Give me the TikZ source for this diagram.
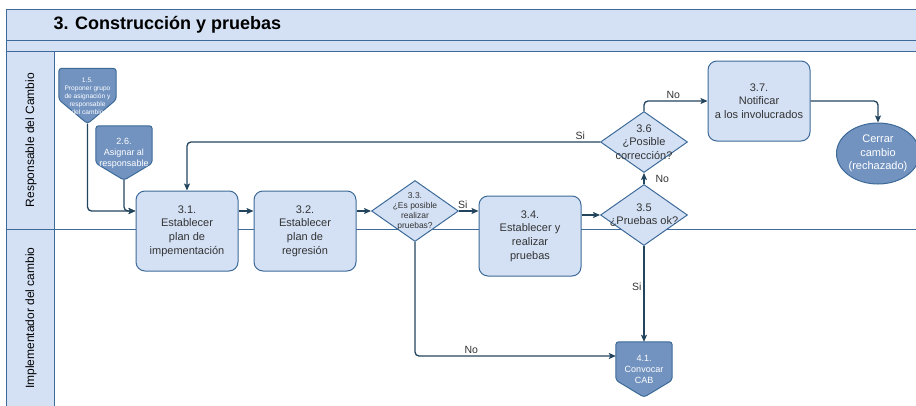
\documentclass[tikz,border=0pt]{standalone}
\usepackage{fontspec}
\setmainfont{Liberation Sans}
\usetikzlibrary{arrows.meta,positioning,shapes.geometric,backgrounds}
\definecolor{azulclaro}{HTML}{D4E1F5}
\definecolor{azulborde}{HTML}{3D6A98}
\definecolor{azuloscuro}{HTML}{7293C0}
\definecolor{linea}{HTML}{23445D}
\definecolor{gristexto}{HTML}{333333}

\begin{document}
\begin{tikzpicture}[
  x=1pt, y=-1pt,
  carril/.style={draw=azulborde, fill=azulclaro, line width=1pt},
  tarea/.style={draw=azulborde, fill=azulclaro, rounded corners=9pt, line width=1pt, text=gristexto, align=center, minimum width=102pt, minimum height=80pt, inner sep=2pt, font=\fontsize{11}{13.7}\selectfont},
  decision/.style={diamond, draw=azulborde, fill=azulclaro, line width=1pt, text=gristexto, align=center, inner sep=-10pt, minimum width=87pt, minimum height=61pt, font=\fontsize{11}{13.7}\selectfont},
  conector/.style={rectangle, text=white, align=center, inner sep=0pt, minimum width=56pt, minimum height=55pt},
  pentagono/.style={draw=azulborde, fill=azuloscuro, line width=1pt, rounded corners=3pt},
  fin/.style={ellipse, draw=azulborde, fill=azuloscuro, line width=1pt, text=white, align=center, inner sep=0pt, minimum width=76pt, minimum height=61pt, font=\fontsize{11}{13.7}\selectfont},
  flecha/.style={draw=linea, line width=1.3pt, rounded corners=4pt, -{Stealth[length=7pt, width=6pt, inset=1.5pt]}},
  etiqueta/.style={text=gristexto, inner sep=2pt, font=\fontsize{10.5}{12}\selectfont}
]
  \useasboundingbox (0,0) rectangle (916,405);
  \clip (0,0) rectangle (916,405);

  % piscina y carriles
  \draw[carril] (6,9) rectangle (930,40);
  \draw[carril] (6,40) rectangle (930,51);
  \draw[carril] (6,51) rectangle (54,229);
  \draw[carril] (6,229) rectangle (54,420);
  \draw[azulborde, line width=1pt] (54,51) rectangle (930,229) (54,229) rectangle (930,420);
  \node[anchor=base west, font=\bfseries\fontsize{18}{20}\selectfont] (titulo) at (50,29.5) {3. Construcción y pruebas};
  \node[rotate=90, font=\fontsize{12}{14}\selectfont] (responsable) at (31,140) {Responsable del Cambio};
  \node[rotate=90, font=\fontsize{12}{14}\selectfont] (implementador) at (31,318) {Implementador del cambio};

  % actividades
  \node[conector, minimum width=57pt, font=\fontsize{6.6}{8}\selectfont] (c15) at (87.5,96) {1.5.\\Proponer grupo\\de asignación y\\responsable\\del cambio};
  \node[conector, minimum height=54pt, font=\fontsize{9}{11}\selectfont] (c26) at (124,153) {2.6.\\Asignar al\\responsable};
  \node[tarea] (t31) at (187,231) {3.1.\\Establecer\\plan de\\impementación};
  \node[tarea, right=15pt of t31] (t32) {3.2.\\Establecer\\plan de\\regresión};
  \node[decision, font=\fontsize{8.5}{10}\selectfont] (d33) at (415,211) {3.3.\\¿Es posible\\realizar\\pruebas?};
  \node[tarea] (t34) at (530,236) {3.4.\\Establecer y\\realizar\\pruebas};
  \node[decision] (d35) at (644,215) {3.5\\¿Pruebas ok?};
  \node[decision] (d36) at (644,142) {3.6\\¿Posible\\corrección?};
  \node[tarea] (t37) at (759,101) {3.7.\\Notificar\\a los involucrados};
  \node[fin] (cierre) at (878,153.5) {Cerrar\\cambio\\(rechazado)};
  \node[conector, font=\fontsize{9}{11}\selectfont] (c41) at (644,369.5) {4.1.\\Convocar\\CAB};

  % conectores de pagina
  \begin{pgfonlayer}{background}
    \foreach \n/\p in {c15/24, c26/17, c41/17}
      \draw[pentagono] (\n.north west) -- (\n.north east) -- ([yshift=\p pt]\n.south east)
        -- (\n.south) -- ([yshift=\p pt]\n.south west) -- cycle;
  \end{pgfonlayer}

  % flujos
  \draw[flecha] (c15.south) |- (t31.west |- d33.west);
  \draw[flecha] (c26.south) |- (t31.west |- d33.west);
  \draw[flecha] (t31.east |- d33.west) -- (t32.west |- d33.west);
  \draw[flecha] (t32.east |- d33.west) -- (d33.west);
  \draw[flecha] (d33.east) -- node[etiqueta, above, pos=0.2] {Si} (t34.west |- d33.east);
  \draw[flecha] (t34.east |- d35.west) -- (d35.west);
  \draw[flecha] (d35.north) -- node[etiqueta, right, xshift=9pt] {No} (d36.south);
  \draw[flecha] (d36.west) -| node[etiqueta, above, pos=0.024] {Si} (t31.north);
  \draw[flecha] (d36.north) |- node[etiqueta, above, pos=0.73] {No} (t37.west);
  \draw[flecha] (t37.east) -| (cierre.north);
  \draw[flecha] (d35.south) -- node[etiqueta, left, pos=0.43] {Si} (c41.north);
  \draw[flecha] (d33.south) |- node[etiqueta, above, pos=0.64] {No} (c41.west |- 0,356);
\end{tikzpicture}
\end{document}
